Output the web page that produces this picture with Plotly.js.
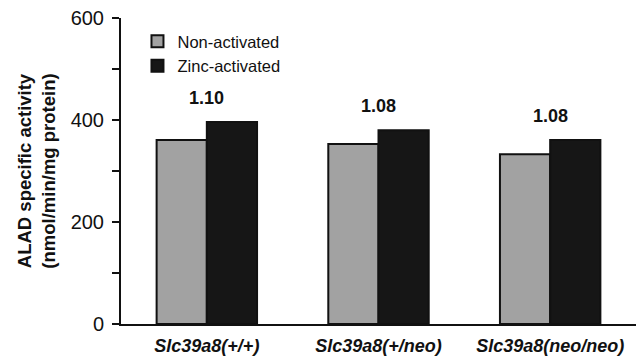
<!DOCTYPE html>
<html>
<head>
<meta charset="utf-8">
<script src="https://cdn.plot.ly/plotly-3.0.1.min.js"></script>
<style>html,body{margin:0;padding:0;background:#fff;}#chart{width:643px;height:360px;}</style>
</head>
<body>
<div id="chart"></div>
<script>
var categories = ["Slc39a8(+/+)", "Slc39a8(+/neo)", "Slc39a8(neo/neo)"];
var nonActivated = [361, 353, 333];
var zincActivated = [396, 380, 361];
var ratioLabels = ["1.10", "1.08", "1.08"];
var seriesNames = ["Non-activated", "Zinc-activated"];
var yTickVals = [0, 200, 400, 600];

var FONT = "Liberation Sans, Arial, sans-serif";

var traces = [
  {type: "bar", name: seriesNames[0], x: categories, y: nonActivated,
   marker: {color: "#a2a2a2", line: {color: "#111", width: 2}}},
  {type: "bar", name: seriesNames[1], x: categories, y: zincActivated,
   marker: {color: "#161616", line: {color: "#111", width: 2}}}
];

var annotations = categories.map(function (c, i) {
  return {x: c, y: zincActivated[i], xref: "x", yref: "y", text: ratioLabels[i],
          showarrow: false, yanchor: "bottom", yshift: 12,
          font: {family: FONT, size: 18, color: "#111", weight: "bold"}};
});

var layout = {
  width: 643, height: 360,
  margin: {l: 121, r: 7, t: 18, b: 36, pad: 0},
  paper_bgcolor: "#fff", plot_bgcolor: "#fff",
  barmode: "group", bargap: 0.415, bargroupgap: 0,
  showlegend: true,
  legend: {x: 0.032, y: 0.98, xanchor: "left", yanchor: "top",
           font: {family: FONT, size: 16.5, color: "#111"},
           bgcolor: "rgba(0,0,0,0)", tracegroupgap: 0, traceorder: "normal"},
  xaxis: {type: "category", range: [-0.5, 2.5], showgrid: false, zeroline: false,
          showline: true, linecolor: "#111", linewidth: 2, ticks: "",
          tickfont: {family: FONT, size: 18, color: "#111", weight: "bold", style: "italic"},
          ticklabelstandoff: 4, fixedrange: true},
  yaxis: {range: [0, 600], showgrid: false, zeroline: false,
          showline: true, linecolor: "#111", linewidth: 2,
          tickvals: yTickVals, ticks: "outside", ticklen: 7, tickwidth: 2, tickcolor: "#111",
          minor: {dtick: 100, ticks: "outside", ticklen: 7, tickwidth: 2, tickcolor: "#111", showgrid: false},
          tickfont: {family: FONT, size: 20, color: "#111"},
          ticklabelstandoff: 4,
          title: {text: "ALAD specific activity<br>(nmol/min/mg protein)", standoff: 10,
                  font: {family: FONT, size: 18.5, color: "#111", weight: "bold"}}},
  annotations: annotations
};

Plotly.newPlot("chart", traces, layout, {displayModeBar: false, staticPlot: true});
</script>
</body>
</html>
